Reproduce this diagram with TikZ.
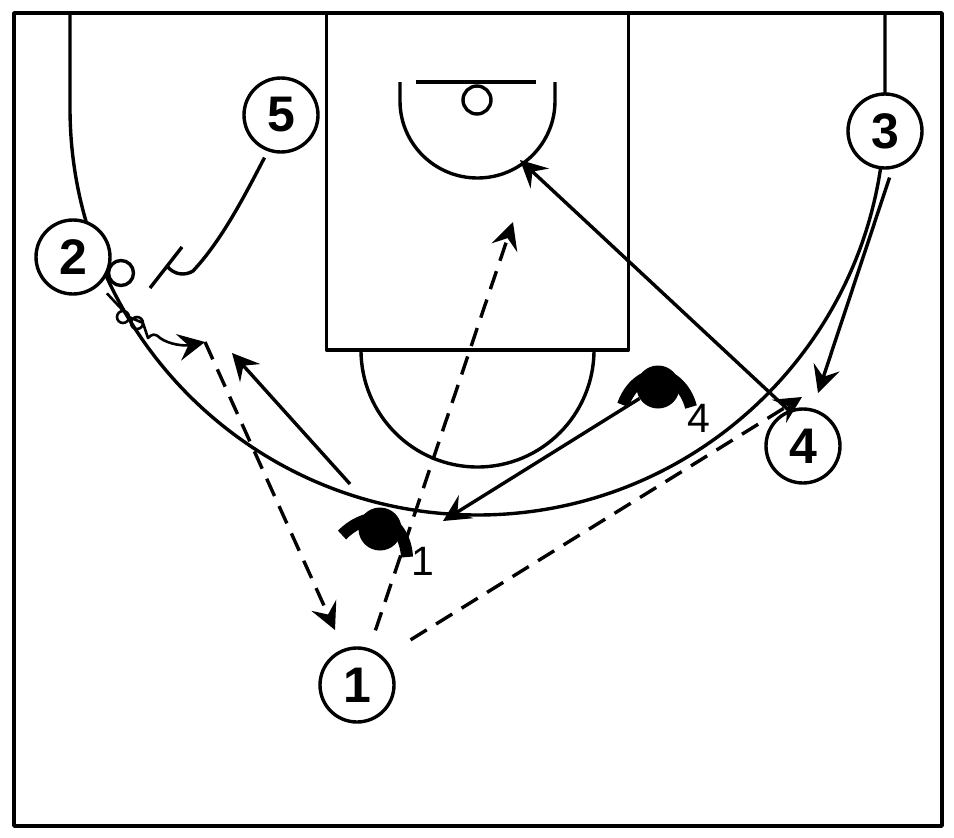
\documentclass[tikz,border=0pt]{standalone}
\usepackage{fontspec}
\setmainfont{Liberation Sans}
\usetikzlibrary{arrows.meta}
\tikzset{
  ink/.style={draw=black,line width=3.4pt},
  offense/.style={circle,ink,fill=white,minimum size=74pt,inner sep=0pt,font=\fontsize{50}{50}\selectfont\bfseries},
  defbody/.style={circle,fill=black,minimum size=43pt,inner sep=0pt},
  defarm/.style={draw=black,line width=12pt,line cap=butt},
  deflabel/.style={inner sep=0pt,font=\fontsize{41}{41}\selectfont},
  ballmark/.style={circle,ink,fill=white,minimum size=25pt,inner sep=0pt},
  tip/.style={-{Stealth[length=27pt,width=27pt,inset=10pt]}},
  move/.style={ink,tip},
  pass/.style={ink,tip,dash pattern=on 19pt off 11pt},
}
\begin{document}
\begin{tikzpicture}[x=1pt,y=-1pt,line join=round]
\useasboundingbox (0,0) rectangle (954,838);
% court
\draw[ink] (14,13) rectangle (942,826);
\draw[ink] (326.5,13) rectangle (628.5,350);
\draw[ink] (70,13) -- (70,108) arc[start angle=180,end angle=360,x radius=407.5,y radius=-407] -- (885,13);
\draw[ink] (361,350) arc[start angle=180,end angle=360,x radius=116.5,y radius=-117];
\draw[ink] (416,82) -- (536,82);
\draw[ink] (400,82) -- (400,101) arc[start angle=180,end angle=360,x radius=77.5,y radius=-77] -- (555,82);
\node[ballmark,minimum size=28pt] (rim) at (477,100) {};
% players
\node[offense] (n5) at (281,115) {5};
\node[offense] (n3) at (885,131) {3};
\node[offense] (n2) at (73,257) {2};
\node[offense] (n4) at (803,446) {4};
\node[offense] (n1) at (357,685) {1};
\node[ballmark] (ball) at (121,273) {};
% defenders
\node[defbody] (d1) at (380,529) {};
\draw[defarm] (342,535) .. controls (352,525) and (365,518) .. (380,518) .. controls (396,522) and (406,538) .. (407,557);
\node[deflabel] (l1) at (423,561) {1};
\node[defbody] (d4) at (658,387) {};
\draw[defarm] (623,405) .. controls (630,385) and (645,375) .. (658,375) .. controls (672,375) and (686,388) .. (691,407);
\node[deflabel] (l4) at (699,418) {4};
% free ends
\coordinate (t1) at (513,222);
\coordinate (t2) at (802,397);
\coordinate (t3) at (335,630);
\coordinate (t4) at (443,521);
\coordinate (t5) at (520,160);
\coordinate (t6) at (818,393);
\coordinate (t7) at (232,353);
\coordinate (s7) at (350,484);
\coordinate (dr) at (205,342);
\coordinate (b1) at (150,288);
\coordinate (b2) at (182,247);
% connectors
\draw[pass,shorten <=19pt] (n1) -- (t1);
\draw[pass,shorten <=32pt] (n1.47) -- (t2);
\draw[pass] (dr) -- (t3);
\draw[move] (d4) -- (t4);
\draw[move] (n4.112) -- (t5);
\draw[move,shorten <=9pt] (n3.-79) -- (t6);
\draw[move] (s7) -- (t7);
\draw[ink,shorten <=7pt] (n5.-110) .. controls (245,195) and (222,240) .. (193,271) .. controls (185,276) and (174,275) .. (167,266);
\draw[ink] (b1) -- (b2);
\draw[ink,line width=2.6pt,tip,shorten <=11pt] (n2.-47) -- (129,317) arc[start angle=0,delta angle=360,radius=6] -- (143,323) arc[start angle=0,delta angle=360,radius=6] -- (148,338) .. controls (152,334) and (155,333) .. (160,338) .. controls (170,345) and (185,346) .. (dr);
\end{tikzpicture}
\end{document}
